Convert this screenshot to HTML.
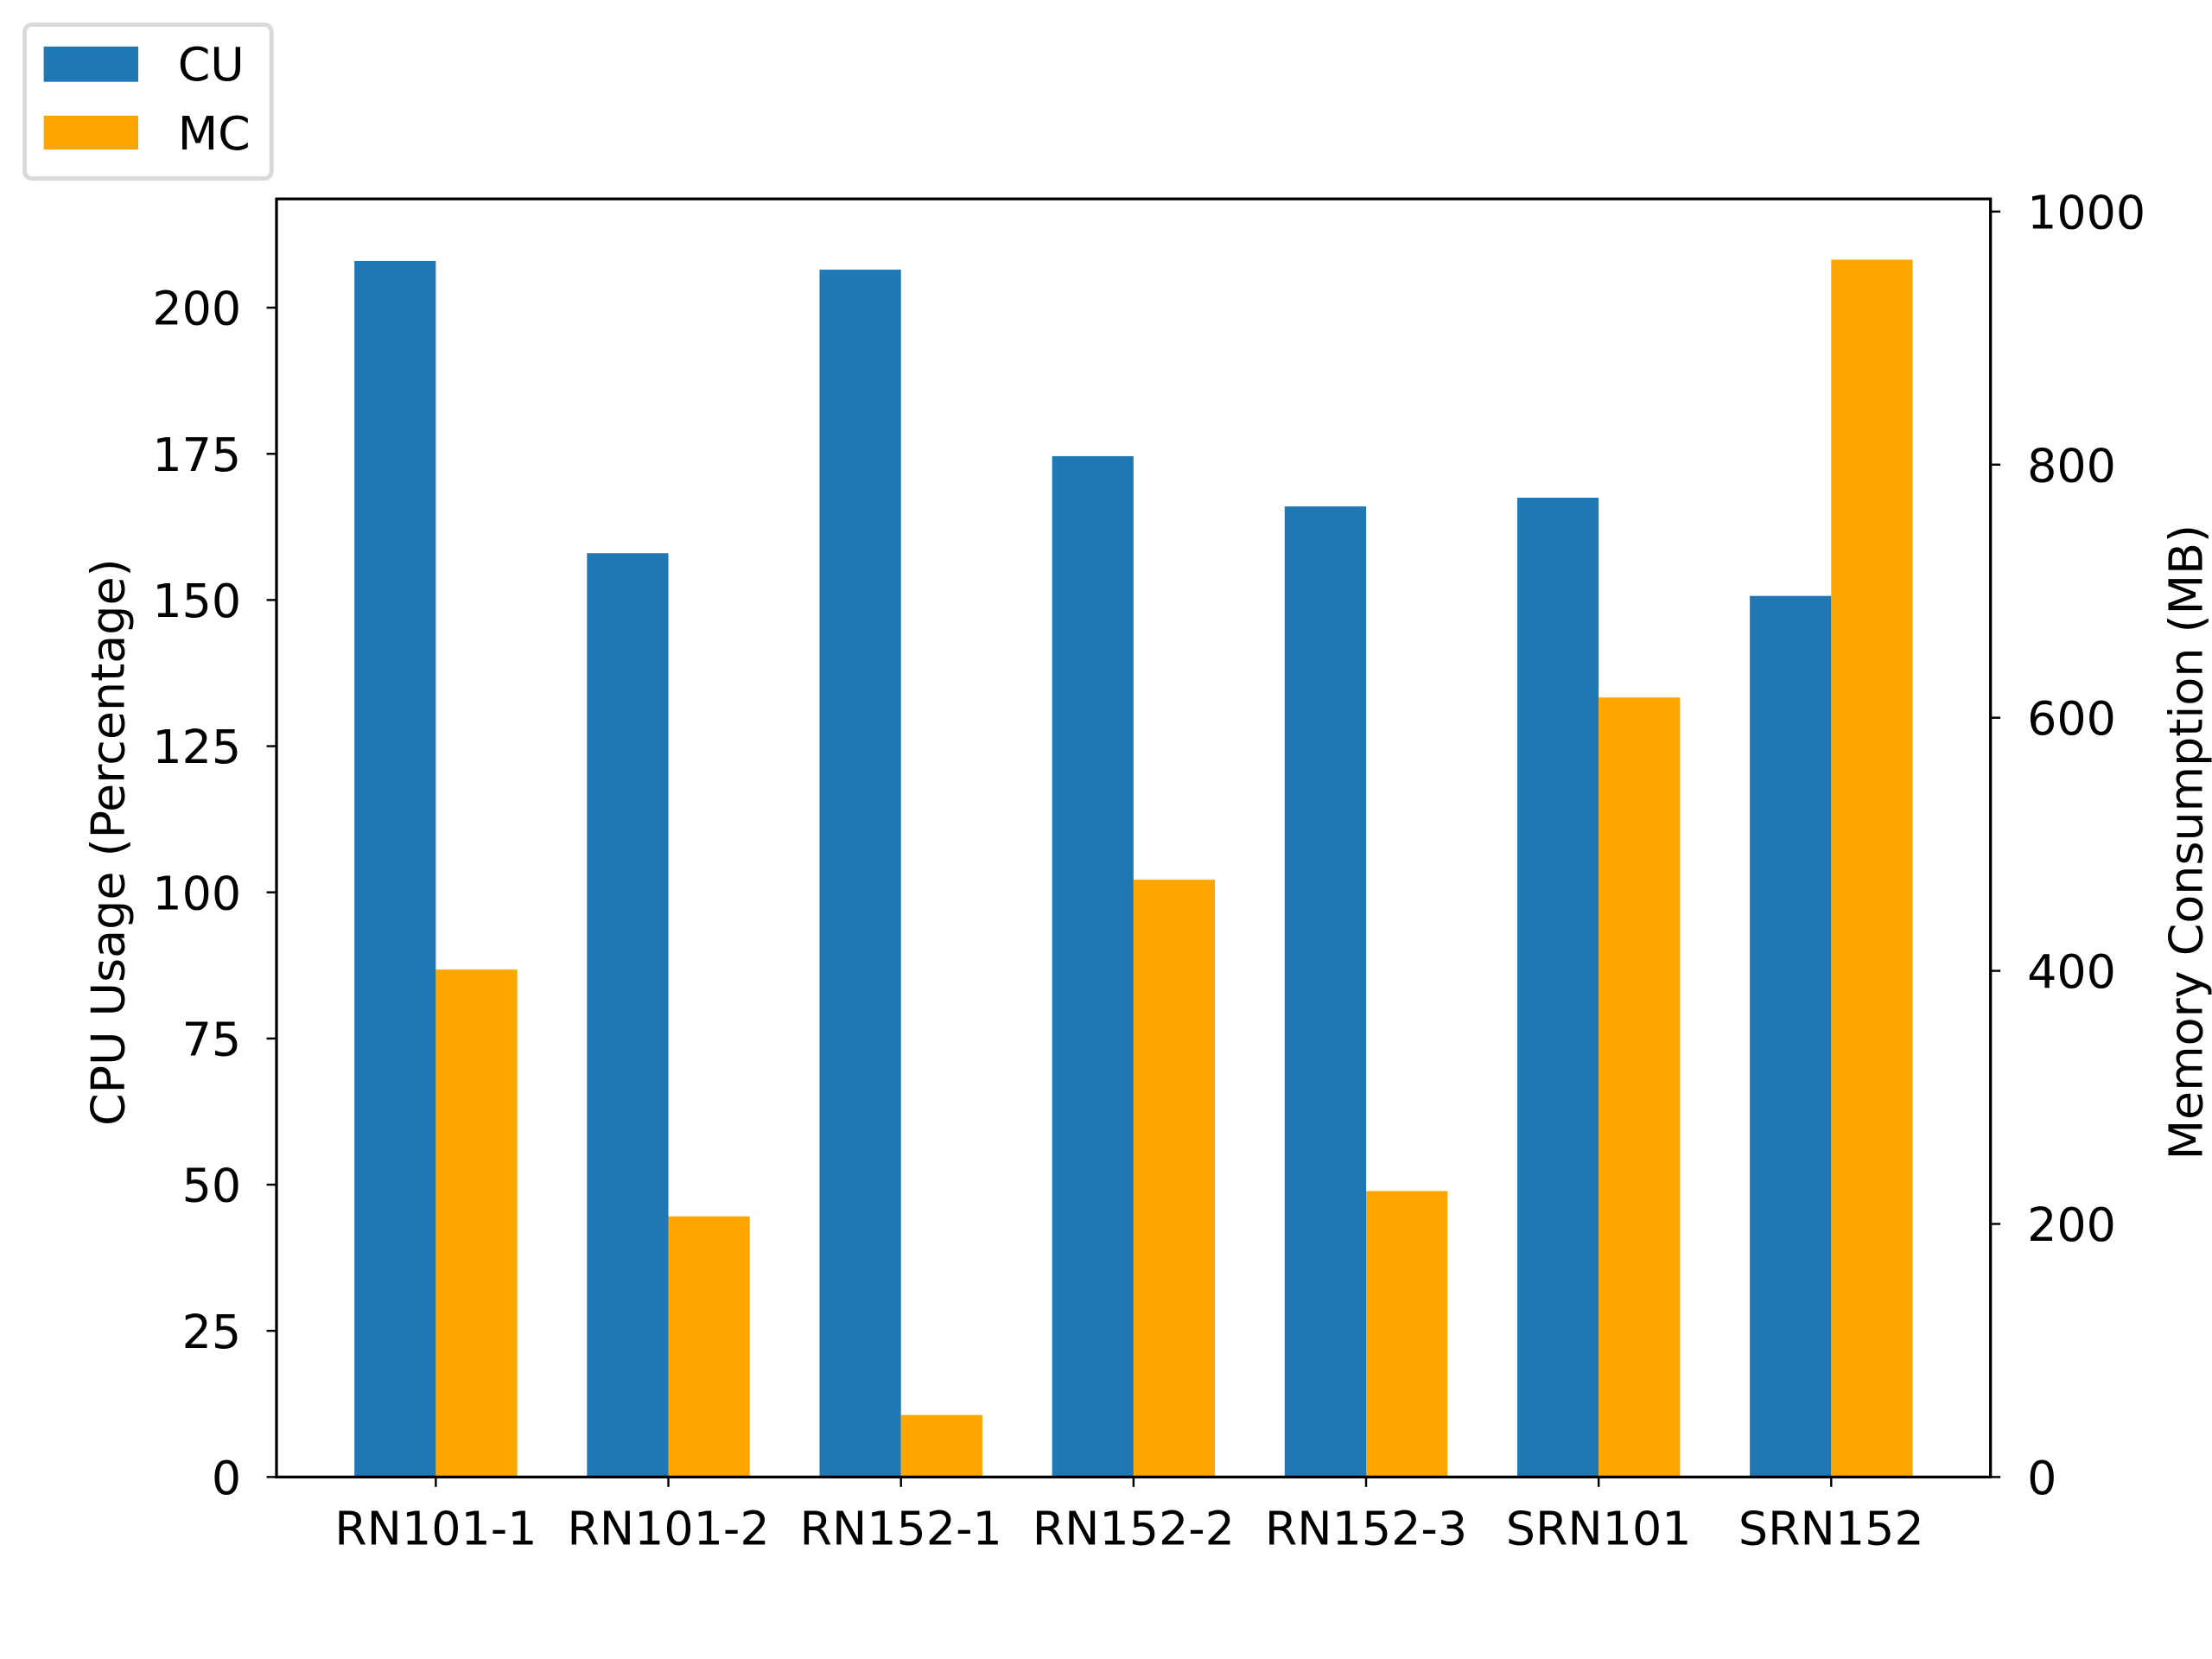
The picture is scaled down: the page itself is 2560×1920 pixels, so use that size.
<!DOCTYPE html>
<html><head><meta charset="utf-8"><style>
html,body{margin:0;padding:0;background:#fff}
svg{display:block}
text{font-family:"DejaVu Sans","Liberation Sans",sans-serif;fill:#000}
</style></head><body>
<svg id="chart" width="2560" height="1920" viewBox="0 0 1568 1176" xmlns="http://www.w3.org/2000/svg">
<g id="bars"></g>
<g id="axes"></g>
<g>
<rect x="17.5" y="17.5" width="175" height="109" rx="5" fill="#fff" stroke="#d9d9d9" stroke-width="3"/>
<rect x="31" y="33" width="67" height="25" fill="#1f77b4"/>
<text x="126" y="57" font-size="33">CU</text>
<rect x="31" y="82" width="67" height="24" fill="#ffa500"/>
<text x="126" y="106" font-size="33">MC</text>
</g>
</svg>
<script>
const categories=["RN101-1","RN101-2","RN152-1","RN152-2","RN152-3","SRN101","SRN152"];
const cuValues=[208,158,206.5,174.6,166,167.5,150.7];
const mcValues=[401,206,49,472,226,616,962];
const leftTicks=[0,25,50,75,100,125,150,175,200];
const rightTicks=[0,200,400,600,800,1000];

const L=196,R=1411,T=141,B=1047;
const xMin=-0.685,xMax=6.685;
const x=i=>L+(i-xMin)/(xMax-xMin)*(R-L);
const yL=v=>B-v*(B-T)/218.6;
const yR=v=>B-v*(B-T)/1010;
const bw=0.35*(x(1)-x(0));
const FS=33;
const NS="http://www.w3.org/2000/svg";
function mk(tag,attrs,parent,txt){const e=document.createElementNS(NS,tag);for(const k in attrs)e.setAttribute(k,attrs[k]);if(txt!==undefined)e.textContent=txt;parent.appendChild(e);return e;}
const bars=document.getElementById('bars'),axes=document.getElementById('axes');
categories.forEach((c,i)=>{
 const a=mk('rect',{x:x(i)-bw,y:yL(cuValues[i]),width:bw,height:B-yL(cuValues[i]),fill:'#1f77b4'},bars);
 
 
 const b=mk('rect',{x:x(i),y:yR(mcValues[i]),width:bw,height:B-yR(mcValues[i]),fill:'#ffa500'},bars);
 
 
 const t=mk('line',{x1:x(i),x2:x(i),y1:B,y2:B+7,stroke:'#000','stroke-width':1.5},axes);
 
 
 const l=mk('text',{x:x(i),y:B+48,'font-size':FS,'text-anchor':'middle'},axes,c);
 
 
});
leftTicks.forEach(v=>{
 const t=mk('line',{x1:L-7,x2:L,y1:yL(v),y2:yL(v),stroke:'#000','stroke-width':1.5},axes);
 
 
 const l=mk('text',{x:L-25,y:yL(v)+12,'font-size':FS,'text-anchor':'end'},axes,v);
 
 
});
rightTicks.forEach(v=>{
 const t=mk('line',{x1:R,x2:R+7,y1:yR(v),y2:yR(v),stroke:'#000','stroke-width':1.5},axes);
 
 
 const l=mk('text',{x:R+26,y:yR(v)+12,'font-size':FS},axes,v);
 
 
});
const f=mk('rect',{x:L,y:T,width:R-L,height:B-T,fill:'none',stroke:'#000','stroke-width':2},axes);


const yt=mk('text',{x:0,y:0,'font-size':FS,'text-anchor':'middle',transform:`translate(88 ${(T+B)/2+3}) rotate(-90)`},axes,'CPU Usage (Percentage)');


const yt2=mk('text',{x:0,y:0,'font-size':FS,'text-anchor':'middle',transform:`translate(1561 ${(T+B)/2+3}) rotate(-90)`},axes,'Memory Consumption (MB)');


</script>
</body></html>
